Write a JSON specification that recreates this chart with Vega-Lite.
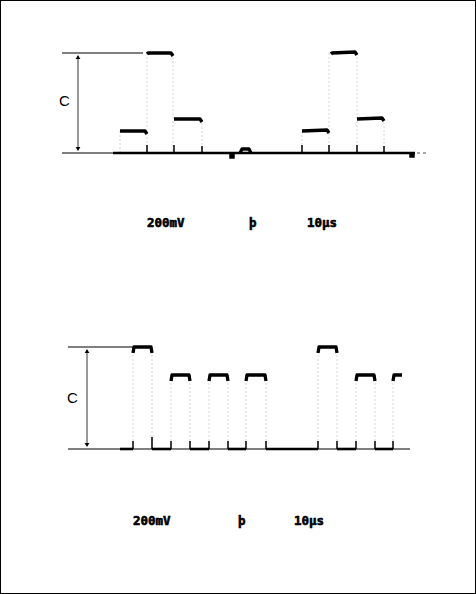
{
  "$schema": "https://vega.github.io/schema/vega-lite/v6.json",
  "width": 476,
  "height": 594,
  "autosize": {"type": "none"},
  "padding": 0,
  "background": "white",
  "config": {"view": {"stroke": "black", "strokeWidth": 2}},
  "datasets": {
    "refs": [
      {"x": 62, "x2": 143, "y": 53},
      {"x": 62, "x2": 120, "y": 153},
      {"x": 68, "x2": 133, "y": 347},
      {"x": 68, "x2": 410, "y": 449}
    ],
    "shafts": [
      {"x": 78, "y": 56, "y2": 150},
      {"x": 87, "y": 350, "y2": 446}
    ],
    "heads": [
      {"x": 78, "y": 57, "dir": "up"},
      {"x": 78, "y": 149, "dir": "down"},
      {"x": 87, "y": 351, "dir": "up"},
      {"x": 87, "y": 445, "dir": "down"}
    ],
    "base": [
      {"x": 113, "x2": 415, "y": 153},
      {"x": 120, "x2": 133, "y": 449},
      {"x": 152, "x2": 171, "y": 449},
      {"x": 190, "x2": 209, "y": 449},
      {"x": 228, "x2": 246, "y": 449},
      {"x": 266, "x2": 318, "y": 449},
      {"x": 337, "x2": 356, "y": 449},
      {"x": 375, "x2": 393, "y": 449}
    ],
    "pulses": [
      {"p": "T1", "x": 120, "y": 131}, {"p": "T1", "x": 145, "y": 131}, {"p": "T1", "x": 147, "y": 134},
      {"p": "T2", "x": 147, "y": 54}, {"p": "T2", "x": 148, "y": 53}, {"p": "T2", "x": 171, "y": 53}, {"p": "T2", "x": 173, "y": 56},
      {"p": "T3", "x": 174, "y": 119}, {"p": "T3", "x": 200, "y": 119}, {"p": "T3", "x": 202, "y": 122},
      {"p": "T4", "x": 302, "y": 131}, {"p": "T4", "x": 327, "y": 130}, {"p": "T4", "x": 329, "y": 133},
      {"p": "T5", "x": 331, "y": 54}, {"p": "T5", "x": 332, "y": 53}, {"p": "T5", "x": 355, "y": 52}, {"p": "T5", "x": 357, "y": 55},
      {"p": "T6", "x": 357, "y": 119}, {"p": "T6", "x": 382, "y": 118}, {"p": "T6", "x": 384, "y": 121},
      {"p": "TB", "x": 240, "y": 153}, {"p": "TB", "x": 242, "y": 149}, {"p": "TB", "x": 249, "y": 149}, {"p": "TB", "x": 251, "y": 153},
      {"p": "B1", "x": 133, "y": 353}, {"p": "B1", "x": 134, "y": 347}, {"p": "B1", "x": 151, "y": 347}, {"p": "B1", "x": 152, "y": 353},
      {"p": "B2", "x": 171, "y": 381}, {"p": "B2", "x": 172, "y": 375}, {"p": "B2", "x": 189, "y": 375}, {"p": "B2", "x": 190, "y": 381},
      {"p": "B3", "x": 209, "y": 381}, {"p": "B3", "x": 210, "y": 375}, {"p": "B3", "x": 227, "y": 375}, {"p": "B3", "x": 228, "y": 381},
      {"p": "B4", "x": 246, "y": 381}, {"p": "B4", "x": 247, "y": 375}, {"p": "B4", "x": 265, "y": 375}, {"p": "B4", "x": 266, "y": 381},
      {"p": "B5", "x": 318, "y": 353}, {"p": "B5", "x": 319, "y": 347}, {"p": "B5", "x": 336, "y": 347}, {"p": "B5", "x": 337, "y": 353},
      {"p": "B6", "x": 356, "y": 381}, {"p": "B6", "x": 357, "y": 375}, {"p": "B6", "x": 374, "y": 375}, {"p": "B6", "x": 375, "y": 381},
      {"p": "B7", "x": 393, "y": 381}, {"p": "B7", "x": 394, "y": 375}, {"p": "B7", "x": 402, "y": 375}
    ],
    "edges": [
      {"x": 120, "y": 131, "y2": 153}, {"x": 147, "y": 53, "y2": 153}, {"x": 173, "y": 53, "y2": 153},
      {"x": 202, "y": 119, "y2": 153}, {"x": 302, "y": 131, "y2": 153}, {"x": 329, "y": 53, "y2": 153},
      {"x": 357, "y": 53, "y2": 153}, {"x": 384, "y": 118, "y2": 153},
      {"x": 133, "y": 347, "y2": 449}, {"x": 152, "y": 347, "y2": 449},
      {"x": 171, "y": 375, "y2": 449}, {"x": 190, "y": 375, "y2": 449},
      {"x": 209, "y": 375, "y2": 449}, {"x": 228, "y": 375, "y2": 449},
      {"x": 246, "y": 375, "y2": 449}, {"x": 266, "y": 375, "y2": 449},
      {"x": 318, "y": 347, "y2": 449}, {"x": 337, "y": 347, "y2": 449},
      {"x": 356, "y": 375, "y2": 449}, {"x": 375, "y": 375, "y2": 449},
      {"x": 393, "y": 375, "y2": 449}
    ],
    "ticks": [
      {"x": 147, "y": 145, "y2": 153}, {"x": 174, "y": 145, "y2": 153}, {"x": 202, "y": 146, "y2": 153},
      {"x": 302, "y": 145, "y2": 153}, {"x": 329, "y": 145, "y2": 153}, {"x": 357, "y": 145, "y2": 153},
      {"x": 384, "y": 146, "y2": 153},
      {"x": 133, "y": 441, "y2": 449}, {"x": 152, "y": 437, "y2": 449}, {"x": 171, "y": 441, "y2": 449},
      {"x": 190, "y": 441, "y2": 449}, {"x": 209, "y": 441, "y2": 449}, {"x": 228, "y": 441, "y2": 449},
      {"x": 246, "y": 441, "y2": 449}, {"x": 266, "y": 441, "y2": 449}, {"x": 318, "y": 441, "y2": 449},
      {"x": 337, "y": 441, "y2": 449}, {"x": 356, "y": 441, "y2": 449}, {"x": 375, "y": 441, "y2": 449},
      {"x": 393, "y": 441, "y2": 449}
    ],
    "blobs": [
      {"x": 232, "y": 156},
      {"x": 412, "y": 155}
    ],
    "tails": [
      {"x": 417, "x2": 426, "y": 153}
    ],
    "cLabels": [
      {"x": 59, "y": 101, "t": "C"},
      {"x": 67, "y": 398, "t": "C"}
    ],
    "scope": [
      {"x": 147, "y": 223, "t": "200mV"},
      {"x": 249, "y": 223, "t": "þ"},
      {"x": 307, "y": 223, "t": "10µs"},
      {"x": 133, "y": 521, "t": "200mV"},
      {"x": 238, "y": 521, "t": "þ"},
      {"x": 294, "y": 521, "t": "10µs"}
    ]
  },
  "layer": [
    {
      "data": {"name": "edges"},
      "mark": {"type": "rule", "color": "#d4d4d4", "strokeWidth": 1, "strokeDash": [2, 2]},
      "encoding": {
        "x": {"field": "x", "type": "quantitative", "scale": {"domain": [0, 476], "nice": false, "zero": false}, "axis": null},
        "y": {"field": "y", "type": "quantitative", "scale": {"domain": [0, 594], "nice": false, "zero": false, "reverse": true}, "axis": null},
        "y2": {"field": "y2"}
      }
    },
    {
      "data": {"name": "refs"},
      "mark": {"type": "rule", "color": "black", "strokeWidth": 1.2},
      "encoding": {
        "x": {"field": "x", "type": "quantitative"},
        "x2": {"field": "x2"},
        "y": {"field": "y", "type": "quantitative"}
      }
    },
    {
      "data": {"name": "shafts"},
      "mark": {"type": "rule", "color": "#333", "strokeWidth": 1},
      "encoding": {
        "x": {"field": "x", "type": "quantitative"},
        "y": {"field": "y", "type": "quantitative"},
        "y2": {"field": "y2"}
      }
    },
    {
      "data": {"name": "heads"},
      "mark": {"type": "point", "filled": true, "color": "black", "size": 22, "opacity": 1},
      "encoding": {
        "x": {"field": "x", "type": "quantitative"},
        "y": {"field": "y", "type": "quantitative"},
        "shape": {"field": "dir", "type": "nominal", "scale": {"domain": ["up", "down"], "range": ["triangle-up", "triangle-down"]}, "legend": null}
      }
    },
    {
      "data": {"name": "base"},
      "mark": {"type": "rule", "color": "black", "strokeWidth": 2.6},
      "encoding": {
        "x": {"field": "x", "type": "quantitative"},
        "x2": {"field": "x2"},
        "y": {"field": "y", "type": "quantitative"}
      }
    },
    {
      "data": {"name": "tails"},
      "mark": {"type": "rule", "color": "#555", "strokeWidth": 1, "strokeDash": [3, 3]},
      "encoding": {
        "x": {"field": "x", "type": "quantitative"},
        "x2": {"field": "x2"},
        "y": {"field": "y", "type": "quantitative"}
      }
    },
    {
      "data": {"name": "ticks"},
      "mark": {"type": "rule", "color": "black", "strokeWidth": 1.5},
      "encoding": {
        "x": {"field": "x", "type": "quantitative"},
        "y": {"field": "y", "type": "quantitative"},
        "y2": {"field": "y2"}
      }
    },
    {
      "data": {"name": "pulses"},
      "mark": {"type": "line", "color": "black", "strokeWidth": 3.3, "strokeCap": "butt", "strokeJoin": "round"},
      "encoding": {
        "x": {"field": "x", "type": "quantitative"},
        "y": {"field": "y", "type": "quantitative"},
        "detail": {"field": "p", "type": "nominal"},
        "order": {"field": "x", "type": "quantitative"}
      }
    },
    {
      "data": {"name": "blobs"},
      "mark": {"type": "point", "shape": "square", "filled": true, "color": "black", "size": 30, "opacity": 1},
      "encoding": {
        "x": {"field": "x", "type": "quantitative"},
        "y": {"field": "y", "type": "quantitative"}
      }
    },
    {
      "data": {"name": "cLabels"},
      "mark": {"type": "text", "align": "left", "baseline": "middle", "font": "Liberation Sans", "fontSize": 15, "color": "black"},
      "encoding": {
        "x": {"field": "x", "type": "quantitative"},
        "y": {"field": "y", "type": "quantitative"},
        "text": {"field": "t"}
      }
    },
    {
      "data": {"name": "scope"},
      "mark": {"type": "text", "align": "left", "baseline": "middle", "font": "DejaVu Sans Mono", "fontWeight": "bold", "fontSize": 12.5, "color": "black", "stroke": "black", "strokeWidth": 0.6},
      "encoding": {
        "x": {"field": "x", "type": "quantitative"},
        "y": {"field": "y", "type": "quantitative"},
        "text": {"field": "t"}
      }
    }
  ]
}
